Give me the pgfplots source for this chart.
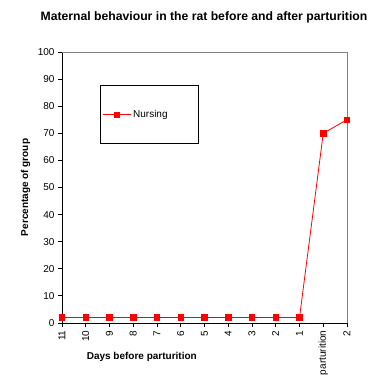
\documentclass[border=0pt]{standalone}
\usepackage{fontspec}
\setmainfont{Liberation Sans}
\usepackage{pgfplots}
\pgfplotsset{compat=1.18}
\begin{document}
\begin{tikzpicture}
\path[use as bounding box] (0,0) rectangle (378pt,386pt);
\node[font=\bfseries\fontsize{12.2}{14}\selectfont] at (204pt,369pt) {Maternal behaviour in the rat before and after parturition};
\begin{axis}[
  at={(62pt,63pt)}, anchor=south west,
  scale only axis, width=285pt, height=271pt,
  xmin=0, xmax=12, ymin=0, ymax=100,
  axis x line*=bottom, axis y line*=left,
  axis line style={black, line width=0.8pt, -},
  xtick={0,...,12},
  xticklabels={11,10,9,8,7,6,5,4,3,2,1,parturition,2},
  x tick label style={rotate=90, anchor=east, font=\fontsize{10}{12}\selectfont},
  ytick={0,10,...,100},
  y tick label style={font=\fontsize{10}{12}\selectfont},
  /pgf/number format/assume math mode=true,
  tick align=outside, major tick length=4pt,
  tick style={black, line width=0.8pt},
  xlabel={}, ylabel={},
  clip=false,
]
\draw[gray, line width=0.8pt] (rel axis cs:0,1) -- (rel axis cs:1,1) -- (rel axis cs:1,0);
\draw[black, fill=white, line width=0.8pt] (rel axis cs:0.133,0.875) rectangle (rel axis cs:0.477,0.664);
\addplot[red, line width=0.8pt, mark=square*, mark size=2.7pt, mark options={solid, fill=red}] coordinates {
(0,2) (1,2) (2,2) (3,2) (4,2) (5,2) (6,2) (7,2) (8,2) (9,2) (10,2) (11,70) (12,75)};
\draw[red, line width=0.8pt] (rel axis cs:0.144,0.768) -- (rel axis cs:0.242,0.768);
\node[red, fill=red, minimum size=5.4pt, inner sep=0pt] at (rel axis cs:0.193,0.768) {};
\node[anchor=west, font=\fontsize{10}{12}\selectfont, inner sep=0pt] at (rel axis cs:0.249,0.768) {Nursing};
\node[font=\bfseries\fontsize{10}{12}\selectfont] at (rel axis cs:0.28,-0.125) {Days before parturition};
\node[font=\bfseries\fontsize{10}{12}\selectfont, rotate=90] at (rel axis cs:-0.128,0.5) {Percentage of group};
\end{axis}
\end{tikzpicture}
\end{document}
